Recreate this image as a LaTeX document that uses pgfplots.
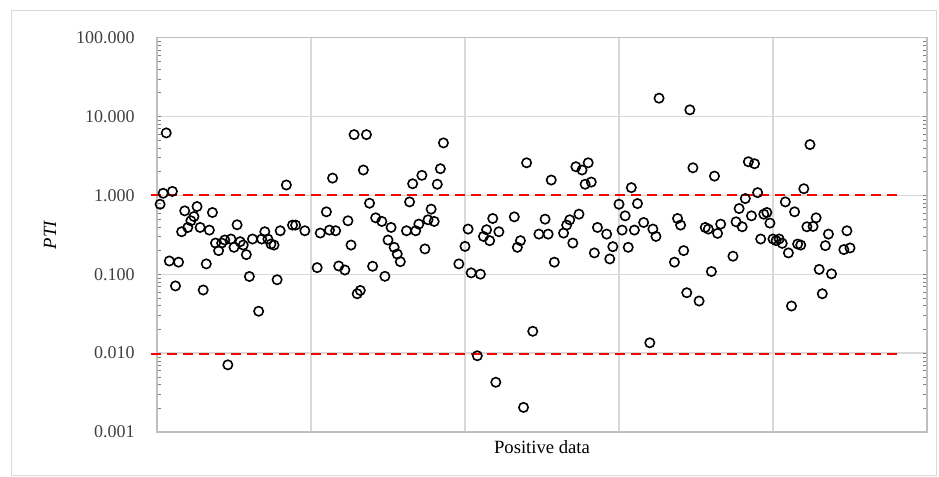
\documentclass[border=0pt]{standalone}
\usepackage{pgfplots}
\usepackage{pgfplotstable}
\pgfplotsset{compat=1.18}
\usepackage{fontspec}
\setmainfont{Liberation Serif}
\definecolor{axgray}{HTML}{BFBFBF}
\definecolor{grdgray}{HTML}{D9D9D9}
\definecolor{txtgray}{HTML}{404040}
\pgfplotstableread{
i v
1 0.77
2 1.06
3 6.17
4 0.147
5 1.12
6 0.071
7 0.142
8 0.345
9 0.635
10 0.391
11 0.475
12 0.538
13 0.72
14 0.391
15 0.063
16 0.135
17 0.362
18 0.605
19 0.248
20 0.199
21 0.248
22 0.271
23 0.0071
24 0.279
25 0.219
26 0.423
27 0.258
28 0.234
29 0.177
30 0.0935
31 0.279
33 0.0339
34 0.279
35 0.345
36 0.279
37 0.241
38 0.234
39 0.085
40 0.355
42 1.35
44 0.419
45 0.419
48 0.355
52 0.121
53 0.332
55 0.617
56 0.362
57 1.65
58 0.355
59 0.127
61 0.113
62 0.475
63 0.234
64 5.87
65 0.0565
66 0.0622
67 2.09
68 5.87
69 0.793
70 0.126
71 0.518
73 0.466
74 0.094
75 0.271
76 0.391
77 0.219
78 0.180
79 0.144
81 0.355
82 0.824
83 1.40
84 0.355
85 0.431
86 1.79
87 0.209
88 0.489
89 0.667
90 0.466
91 1.38
92 2.17
93 4.61
98 0.135
100 0.225
101 0.373
102 0.104
104 0.00925
105 0.100
106 0.301
107 0.366
108 0.266
109 0.508
110 0.00427
111 0.345
116 0.533
117 0.219
118 0.266
119 0.00205
120 2.58
122 0.0189
124 0.322
126 0.498
127 0.322
128 1.56
129 0.142
132 0.332
133 0.419
134 0.489
135 0.248
136 2.30
137 0.576
138 2.09
139 1.38
140 2.58
141 1.47
142 0.186
143 0.391
146 0.322
147 0.156
148 0.223
150 0.77
151 0.362
152 0.549
153 0.219
154 1.25
155 0.362
156 0.785
158 0.452
160 0.0135
161 0.373
162 0.301
163 17.0
168 0.142
169 0.508
170 0.419
171 0.199
172 0.0582
173 12.1
174 2.23
176 0.0457
178 0.391
179 0.373
180 0.108
181 1.75
182 0.329
183 0.431
187 0.169
188 0.461
189 0.679
190 0.399
191 0.908
192 2.66
193 0.549
194 2.51
195 1.08
196 0.279
197 0.576
198 0.605
199 0.444
200 0.279
201 0.266
202 0.279
203 0.246
204 0.824
205 0.186
206 0.0395
207 0.617
208 0.241
209 0.234
210 1.21
211 0.399
212 4.39
213 0.403
214 0.518
215 0.115
216 0.0565
217 0.23
218 0.322
219 0.101
223 0.205
224 0.355
225 0.215
}\ptidata
\begin{document}
\begin{tikzpicture}
\path[use as bounding box] (0,0) rectangle (704.25pt,357.75pt);
\draw[grdgray, line width=0.75pt] (8.6pt,1pt) rectangle (702pt,349.5pt);
\begin{axis}[
  scale only axis,
  anchor=south west,
  at={(117.75pt,33.75pt)},
  width=577.5pt, height=295.9pt,
  ymode=log,
  xmin=0, xmax=250, ymin=0.001, ymax=100,
  xtick={0,50,...,250}, xticklabels={},
  ytick={0.001,0.01,0.1,1,10,100},
  yticklabels={0.001,0.010,0.100,1.000,10.000,100.000},
  minor ytick={},
  major tick length=0pt,
  grid=major,
  grid style={grdgray, line width=0.9pt},
  axis line style={axgray, line width=0.9pt},
  yticklabel style={font=\fontsize{13.5}{15}\selectfont, text=txtgray, inner sep=0pt, anchor=east, xshift=-16.5pt},
  xlabel={Positive data},
  ylabel={\textit{PTI}},
  label style={font=\fontsize{14}{16}\selectfont, text=black},
  xlabel style={at={(axis description cs:0.5,-0.038)}, anchor=center},
  ylabel style={at={(axis description cs:-0.139,0.5)}, anchor=center, rotate=0},
  clip=false,
]
\addplot[red, line width=1.8pt, dash pattern=on 7.5pt off 4.5pt] coordinates {(-2,1) (242,1)};
\addplot[red, line width=1.8pt, dash pattern=on 7.5pt off 4.5pt] coordinates {(-2,0.0097) (242,0.0097)};
\addplot[only marks, mark=o, mark size=3.5pt, mark options={black, line width=1.2pt}] table[x=i, y=v] {\ptidata};
\end{axis}
\end{tikzpicture}
\end{document}
